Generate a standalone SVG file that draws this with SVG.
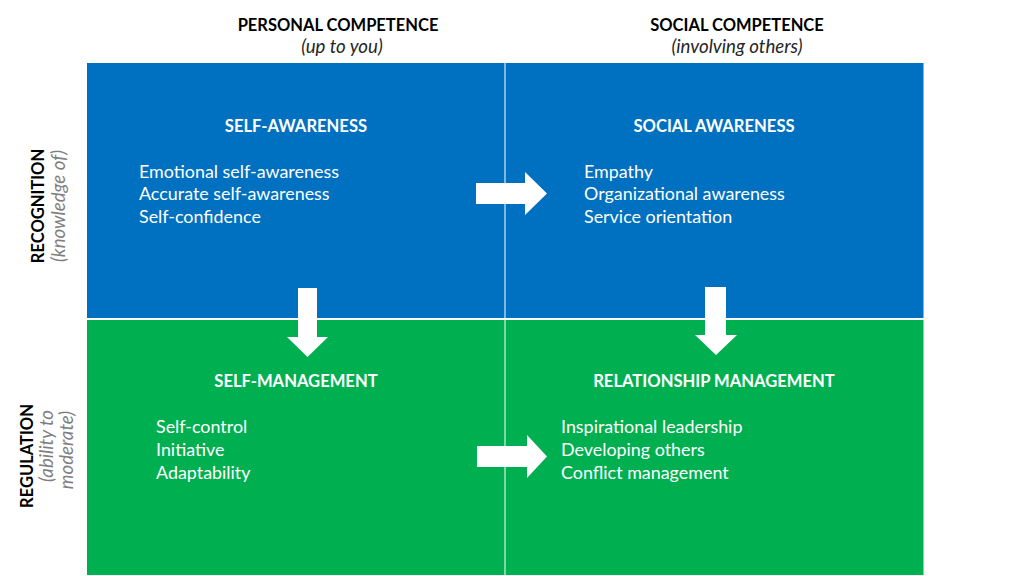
<svg xmlns="http://www.w3.org/2000/svg" width="1024" height="576" viewBox="0 0 1024 576">
<style>
.h{font-family:Lato,"Liberation Sans",sans-serif;font-weight:bold;font-size:16.5px;fill:#000;text-anchor:middle}
.it{font-family:Lato,"Liberation Sans",sans-serif;font-style:italic;font-size:18.67px;fill:#262626;text-anchor:middle}
.itg{font-family:Lato,"Liberation Sans",sans-serif;font-style:italic;font-size:18.67px;fill:#7f7f7f;text-anchor:middle}
.qh{font-family:Lato,"Liberation Sans",sans-serif;font-weight:bold;font-size:16.6px;fill:#fff;text-anchor:middle}
.li{font-family:Lato,"Liberation Sans",sans-serif;font-size:17.9px;fill:#fff}
.blue{fill:#0070C0}
.green{fill:#00B050}
.arr{fill:#fff}
</style>
<rect width="1024" height="576" fill="#fff"/>
<g id="col-headers">
<text class="h" x="338" y="31">PERSONAL COMPETENCE</text>
<text class="it" x="342" y="52.5">(up to you)</text>
<text class="h" x="737" y="31">SOCIAL COMPETENCE</text>
<text class="it" x="737" y="52.5">(involving others)</text>
</g>
<g id="row-headers">
<text class="h" transform="translate(44,206) rotate(-90)">RECOGNITION</text>
<text class="itg" transform="translate(65,206) rotate(-90)">(knowledge of)</text>
<text class="h" transform="translate(33,456) rotate(-90)">REGULATION</text>
<text class="itg" transform="translate(53,446) rotate(-90)">(ability to</text>
<text class="itg" transform="translate(73,450) rotate(-90)">moderate)</text>
</g>
<g id="self-awareness">
<rect class="blue" x="87" y="63" width="417.5" height="255"/>
<text class="qh" x="296" y="132">SELF-AWARENESS</text>
<text class="li" x="139" y="177.5">Emotional self-awareness</text>
<text class="li" x="139" y="200">Accurate self-awareness</text>
<text class="li" x="139" y="222.5">Self-confidence</text>
</g>
<g id="social-awareness">
<rect class="blue" x="505.5" y="63" width="418" height="255"/>
<text class="qh" x="714" y="132">SOCIAL AWARENESS</text>
<text class="li" x="584" y="177.5">Empathy</text>
<text class="li" x="584" y="200">Organizational awareness</text>
<text class="li" x="584" y="222.5">Service orientation</text>
</g>
<g id="self-management">
<rect class="green" x="87" y="320" width="417.5" height="255"/>
<text class="qh" x="296" y="387">SELF-MANAGEMENT</text>
<text class="li" x="156" y="433">Self-control</text>
<text class="li" x="156" y="456">Initiative</text>
<text class="li" x="156" y="479">Adaptability</text>
</g>
<g id="relationship-management">
<rect class="green" x="505.5" y="320" width="418" height="255"/>
<text class="qh" x="714" y="387">RELATIONSHIP MANAGEMENT</text>
<text class="li" x="561" y="433">Inspirational leadership</text>
<text class="li" x="561" y="456">Developing others</text>
<text class="li" x="561" y="479">Conflict management</text>
</g>
<g id="connectors">
<polygon class="arr" points="476,183 525,183 525,172 547,193.5 525,215 525,204 476,204"/>
<polygon class="arr" points="477,446 527,446 527,435 547,456.5 527,478 527,467 477,467"/>
<polygon class="arr" points="298,288 317,288 317,337 328,337 307.5,357 287,337 298,337"/>
<polygon class="arr" points="705,287 726,287 726,335 737,335 716,355 695,335 705,335"/>
</g>
</svg>
